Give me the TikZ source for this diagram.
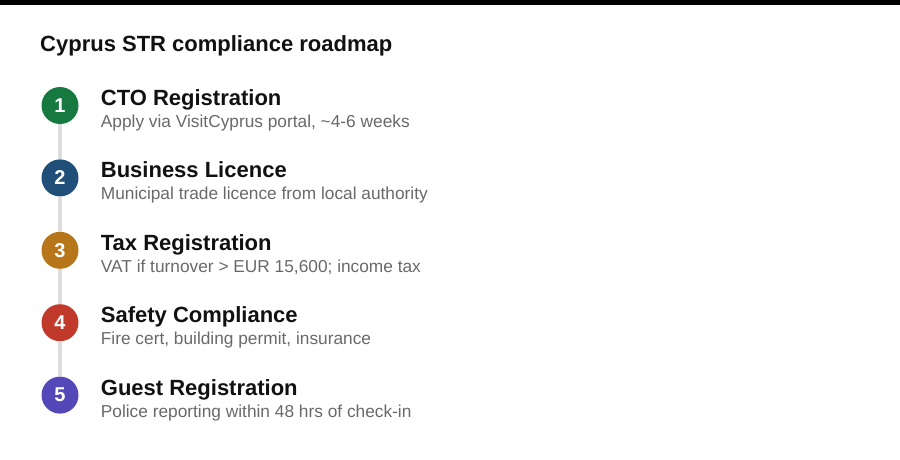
\documentclass[tikz,border=0pt]{standalone}
\usepackage{fontspec}
\setmainfont{Liberation Sans}
\usepackage{xcolor}
\usetikzlibrary{positioning, calc}
\definecolor{stepgreen}{RGB}{22, 122, 64}
\definecolor{stepblue}{RGB}{31, 78, 121}
\definecolor{steporange}{RGB}{183, 118, 26}
\definecolor{stepred}{RGB}{192, 57, 43}
\definecolor{steppurple}{RGB}{84, 72, 184}
\definecolor{railgray}{RGB}{221, 221, 221}
\definecolor{subgray}{RGB}{105, 105, 105}
\definecolor{inkblack}{RGB}{17, 17, 17}

\begin{document}
\begin{tikzpicture}[
    x=1pt, y=1pt,
    node distance=35pt and 22pt,
    badge/.style={circle, inner sep=0pt, minimum size=37pt, text=white, font=\fontsize{20}{22}\selectfont\bfseries},
    steptitle/.style={inner sep=0pt, text=inkblack, font=\fontsize{22}{24}\selectfont\bfseries},
    stepnote/.style={inner sep=0pt, text=subgray, font=\fontsize{17.3}{19}\selectfont},
    rail/.style={line width=4pt, draw=railgray}
]
\useasboundingbox (0,0) rectangle (900,-460);
\fill[black] (0,0) rectangle (900,-5);

% Heading
\node[inner sep=0pt, anchor=base west, text=inkblack, font=\fontsize{22}{24}\selectfont\bfseries] (heading) at (40,-52) {Cyprus STR compliance roadmap};

% Badges
\node[badge, fill=stepgreen] (c1) at (60,-105.5) {1};
\node[badge, fill=stepblue, below=of c1] (c2) {2};
\node[badge, fill=steporange, below=of c2] (c3) {3};
\node[badge, fill=stepred, below=of c3] (c4) {4};
\node[badge, fill=steppurple, below=of c4] (c5) {5};

% Step titles
\node[steptitle, right=of c1, anchor=base west] (t1) {CTO Registration};
\node[steptitle, right=of c2, anchor=base west] (t2) {Business Licence};
\node[steptitle, right=of c3, anchor=base west] (t3) {Tax Registration};
\node[steptitle, right=of c4, anchor=base west] (t4) {Safety Compliance};
\node[steptitle, right=of c5, anchor=base west] (t5) {Guest Registration};

% Step notes
\node[stepnote, below=22pt of t1.base west, anchor=base west] (n1) {Apply via VisitCyprus portal, \textasciitilde4-6 weeks};
\node[stepnote, below=22pt of t2.base west, anchor=base west] (n2) {Municipal trade licence from local authority};
\node[stepnote, below=22pt of t3.base west, anchor=base west] (n3) {VAT if turnover > EUR 15,600; income tax};
\node[stepnote, below=22pt of t4.base west, anchor=base west] (n4) {Fire cert, building permit, insurance};
\node[stepnote, below=22pt of t5.base west, anchor=base west] (n5) {Police reporting within 48 hrs of check-in};

% Rail
\draw[rail] (c1) -- (c2);
\draw[rail] (c2) -- (c3);
\draw[rail] (c3) -- (c4);
\draw[rail] (c4) -- (c5);

\end{tikzpicture}
\end{document}
